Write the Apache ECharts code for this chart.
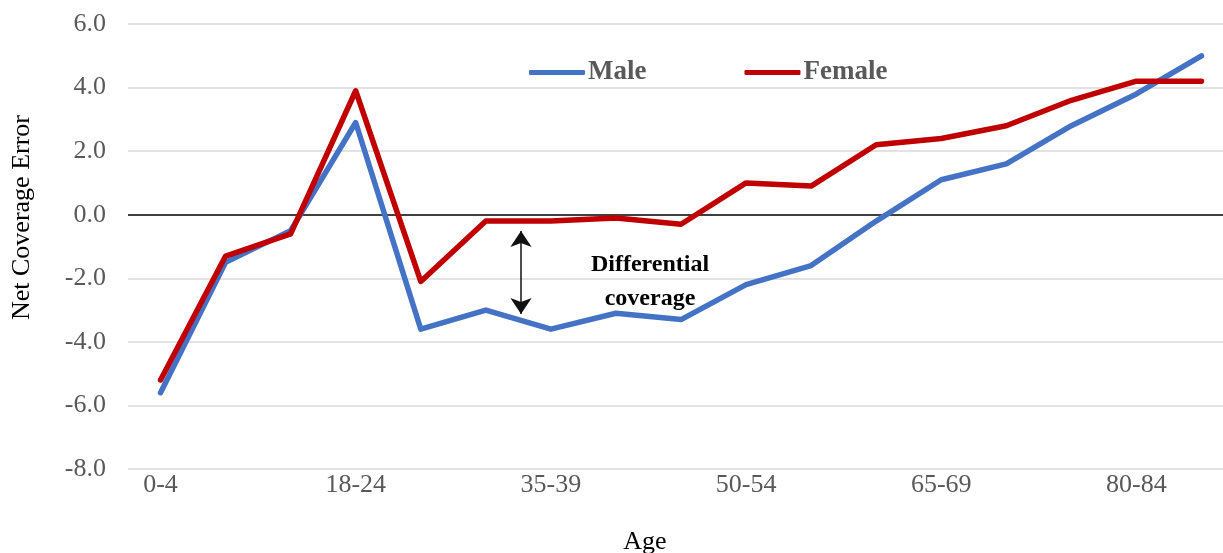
<!DOCTYPE html>
<html>
<head>
<meta charset="utf-8">
<script src="https://cdn.jsdelivr.net/npm/echarts@6/dist/echarts.min.js"></script>
<style>
html,body{margin:0;padding:0;background:#fff;}
#chart{width:1223px;height:553px;}
</style>
</head>
<body>
<div id="chart"></div>
<script>
const categories = ['0-4','5-9','10-17','18-24','25-29','30-34','35-39','40-44','45-49','50-54','55-59','60-64','65-69','70-74','75-79','80-84','85+'];
const maleValues = [-5.6,-1.5,-0.5,2.9,-3.6,-3.0,-3.6,-3.1,-3.3,-2.2,-1.6,-0.2,1.1,1.6,2.8,3.8,5.0];
const femaleValues = [-5.2,-1.3,-0.6,3.9,-2.1,-0.2,-0.2,-0.1,-0.3,1.0,0.9,2.2,2.4,2.8,3.6,4.2,4.2];
const yTicks = {min:-8, max:6, interval:2};

const FONT = '"Liberation Serif", "Times New Roman", serif';
const chart = echarts.init(document.getElementById('chart'));
chart.setOption({
  animation:false,
  backgroundColor:'#fff',
  grid:{left:128, top:24, width:1106, height:445, containLabel:false, outerBoundsMode:'none'},
  legend:{
    left:524, top:54,
    icon:'roundRect',
    itemWidth:56, itemHeight:5, itemGap:98,
    textStyle:{fontFamily:FONT, fontSize:27, fontWeight:'bold', color:'#595959', padding:[0,0,0,-2]},
    data:['Male','Female']
  },
  xAxis:{
    type:'category', data:categories, boundaryGap:true,
    axisLine:{show:false}, axisTick:{show:false},
    axisLabel:{interval:2, fontFamily:FONT, fontSize:26, color:'#595959', margin:3},
    name:'Age', nameLocation:'middle', nameGap:60,
    nameTextStyle:{fontFamily:FONT, fontSize:26, color:'#000', padding:[0,72,0,0]}
  },
  yAxis:{
    type:'value', min:yTicks.min, max:yTicks.max, interval:yTicks.interval,
    axisLine:{show:false}, axisTick:{show:false},
    axisLabel:{fontFamily:FONT, fontSize:26, color:'#595959', margin:22, formatter:v=>v.toFixed(1)},
    splitLine:{lineStyle:{color:['#d9d9d9','#d9d9d9','#d9d9d9','#d9d9d9','#000000','#d9d9d9','#d9d9d9','#d9d9d9'], width:1.5}},
    name:'Net Coverage Error', nameLocation:'middle', nameGap:93,
    nameTextStyle:{fontFamily:FONT, fontSize:26, color:'#000', padding:[0,0,0,58]}
  },
  series:[
    {name:'Male', type:'line', data:maleValues, symbol:'none', color:'#4472C4',
     lineStyle:{width:5.5, color:'#4472C4', cap:'round', join:'round'},
     markLine:{silent:true, symbol:['arrow','arrow'], symbolSize:[16,16], label:{show:false},
       lineStyle:{color:'#111', width:1.5, type:'solid'},
       data:[[{x:521, y:231},{x:521, y:314}]]}
    },
    {name:'Female', type:'line', data:femaleValues, symbol:'none', color:'#C00000',
     lineStyle:{width:5.5, color:'#C00000', cap:'round', join:'round'}}
  ],
  graphic:[
    {type:'text', x:650, y:248, style:{text:'Differential\ncoverage', fontFamily:FONT, fontSize:24, fontWeight:'bold', fill:'#000', align:'center', lineHeight:34}}
  ]
});
</script>
</body>
</html>
